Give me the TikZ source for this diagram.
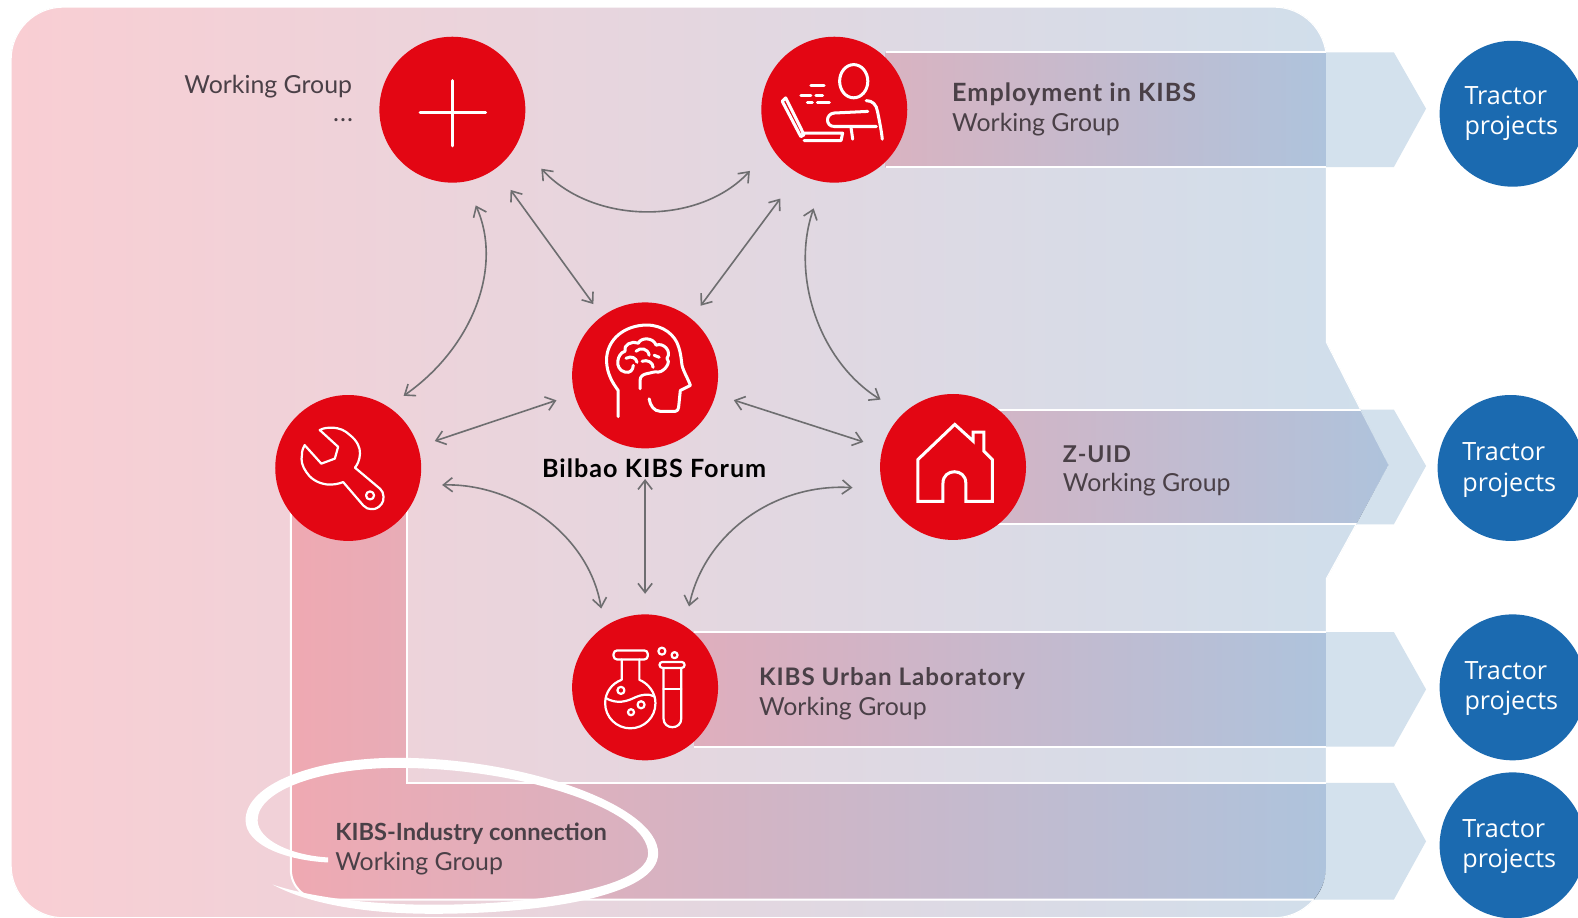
\documentclass[tikz,border=0pt]{standalone}
\usepackage{fontspec}
\setmainfont{Lato}
\newfontfamily\widefont[LetterSpace=4]{Lato}
\newfontfamily\tractorfont{Open Sans}
\usetikzlibrary{arrows.meta}
\definecolor{bgL}{HTML}{F9CED3}
\definecolor{bgR}{HTML}{CFDFEC}
\definecolor{tipc}{HTML}{D3E1ED}
\definecolor{bandR}{HTML}{AEC3DC}
\definecolor{bandA}{HTML}{D9B3C1}
\definecolor{bandB}{HTML}{D2B5C6}
\definecolor{bandC}{HTML}{DFAEBD}
\definecolor{bandD}{HTML}{EFA9B2}
\definecolor{redc}{HTML}{E30613}
\definecolor{bluec}{HTML}{1B6AB0}
\definecolor{arrc}{HTML}{6E6E70}
\definecolor{txtc}{HTML}{4A4047}
\def\mainpath{(11,460) [rounded corners=52pt] -- (11,7) -- (1318,7) [sharp corners] -- (1318,340) -- (1380,462) -- (1318,575) [rounded corners=52pt] -- (1318,912) -- (11,912) [sharp corners] -- cycle}
\tikzset{
  redball/.style={circle,fill=redc,draw=none,minimum size=145pt,inner sep=0pt,outer sep=0pt},
  blueball/.style={circle,fill=bluec,draw=none,minimum size=145pt,inner sep=0pt,outer sep=0pt},
  dblarrow/.style={draw=arrc,line width=1.6pt,{Straight Barb[length=9pt,width=14pt]}-{Straight Barb[length=9pt,width=14pt]}},
  icon/.style={draw=white,line width=3pt,line cap=round,line join=round},
  thinicon/.style={draw=white,line width=2.2pt,line cap=round,line join=round},
  edge line/.style={draw=white,line width=2pt},
  wg/.style={anchor=west,text=txtc,font=\fontsize{24.7}{25}\selectfont,inner sep=0pt},
  wgb/.style={anchor=west,text=txtc,font=\fontsize{25}{25}\selectfont\widefont\bfseries,inner sep=0pt},
  tractor/.style={text=white,align=left,font=\fontsize{25}{30}\selectfont\tractorfont,inner sep=0pt}
}
\begin{document}
\begin{tikzpicture}[x=1pt,y=-1pt]
\useasboundingbox (0,0) rectangle (1568,912);
\fill[white] (0,0) rectangle (1568,912);
% main panel
\fill[left color=bgL,right color=bgR,middle color=bgL!50!bgR] \mainpath;
\draw[white,line width=1.2pt] \mainpath;
% arrow tips
\fill[tipc] (1300,52) -- (1385,52) -- (1417,108) -- (1385,166) -- (1300,166) -- cycle;
\fill[tipc] (1300,407) -- (1385,407) -- (1417,463) -- (1385,521) -- (1300,521) -- cycle;
\fill[tipc] (1300,628) -- (1385,628) -- (1417,685) -- (1385,742) -- (1300,742) -- cycle;
\fill[tipc] (1300,778) -- (1385,778) -- (1417,836) -- (1385,894) -- (1300,894) -- cycle;
% bands
\begin{scope}
\clip \mainpath;
\fill[left color=bandA,right color=bandR] (880,52) rectangle (1318,166);
\fill[left color=bandB,right color=bandR] (990,407) rectangle (1385,521);
\fill[left color=bandC,right color=bandR] (690,628) rectangle (1318,742);
\begin{scope}
\clip (289,500) -- (404,500) -- (404,778) -- (1385,778) -- (1385,894) [rounded corners=30pt] -- (289,894) [sharp corners] -- cycle;
\fill[left color=bandD,right color=bandR] (289,500) rectangle (1318,900);
\end{scope}
\draw[edge line] (880,52) -- (1318,52) (880,166) -- (1318,166);
\draw[edge line] (990,407) -- (1385,407) (990,521) -- (1385,521);
\draw[edge line] (690,628) -- (1318,628) (690,742) -- (1318,742);
\draw[edge line] (404,500) -- (404,778) -- (1318,778);
\draw[edge line,rounded corners=30pt] (289,500) -- (289,894) -- (1318,894);
\end{scope}
% clean the clipped band edges
\draw[tipc,line width=1.2pt] (1352.5,408) -- (1380.3,462) -- (1349,520);
\draw[tipc,line width=1.4pt] (1318.6,855) .. controls (1318.6,870) and (1316,883) .. (1308,893);
% circles
\node[redball] (plus) at (449.5,109) {};
\node[redball] (emp) at (829,109) {};
\node[redball] (brain) at (641,373) {};
\node[redball] (wrench) at (346,465) {};
\node[redball] (house) at (947,464) {};
\node[redball] (flask) at (641,683) {};
\node[blueball] (t1) at (1503,113) {};
\node[blueball] (t2) at (1501,465) {};
\node[blueball] (t3) at (1503,683) {};
\node[blueball] (t4) at (1503,840) {};
% connectors
\draw[dblarrow,shorten <=26pt,shorten >=15pt] (plus) -- (brain);
\draw[dblarrow,shorten <=31pt,shorten >=16pt] (emp.-119.4) -- (brain.51);
\draw[dblarrow,shorten <=17.6pt,shorten >=19pt] (wrench.17.2) -- (brain.195.2);
\draw[dblarrow,shorten <=19pt,shorten >=20pt] (brain.-15.3) -- (house.165.7);
\draw[dblarrow,shorten <=30.5pt,shorten >=20.5pt] (brain) -- (flask);
\draw[dblarrow,shorten <=35pt,shorten >=32pt] (plus.-27.3) .. controls (590,224) and (695,224) .. (emp.-149);
\draw[dblarrow,shorten <=26pt,shorten >=19pt] (plus.-80.7) .. controls (500,265) and (470,345) .. (wrench.57.3);
\draw[dblarrow,shorten <=28pt,shorten >=26.5pt] (emp.-99.5) .. controls (785,275) and (815,360) .. (house.133);
\draw[dblarrow,shorten <=23pt,shorten >=18.5pt] (wrench.-14) .. controls (510,480) and (585,530) .. (flask.124.5);
\draw[dblarrow,shorten <=31pt,shorten >=20pt] (house.198.4) .. controls (770,480) and (700,530) .. (flask.57.8);
% plus icon
\begin{scope}[shift={(plus.center)}]
\draw[icon] (-32,3) -- (33,3) (0,-29) -- (0,36);
\end{scope}
% employment icon
\begin{scope}[shift={(emp.center)}]
\draw[icon] (19.3,-28.3) ellipse (14 and 16.5);
\draw[icon] (31.7,-9) .. controls (38,-9) and (42,-5) .. (43,2) .. controls (45,12) and (47,22) .. (47.7,29.3);
\draw[icon] (33.3,1.7) -- (0,3.3) .. controls (-9,4) and (-9,16.7) .. (0,16.7) -- (41.7,16.7);
\draw[icon] (16.7,18.3) -- (18.3,29.3);
\draw[icon] (-51.7,-8.3) -- (-48.3,-11.7) -- (-30,25) -- (-33.3,26.7) -- cycle;
\draw[icon] (-31.7,23.3) -- (8.3,23.3) -- (6.7,30.7) -- (-30,30.7);
\draw[icon] (-23.3,-24) -- (-10,-24) (-33.3,-14.3) -- (-23.3,-14.3) (-18.3,-14.3) -- (-11.7,-14.3) (-26.7,-6.7) -- (-21.7,-6.7) (-16.7,-6.7) -- (-5,-6.7);
\end{scope}
% brain icon
\begin{scope}[shift={(brain.center)}]
\draw[icon] (-26.7,41) -- (-26.7,15) .. controls (-32,8) and (-38.3,-2) .. (-38.3,-15) .. controls (-38.3,-36) and (-20,-50) .. (1.7,-50) .. controls (18,-50) and (30,-40) .. (33.3,-28.3) .. controls (36,-20) and (36,-14) .. (36.7,-10) .. controls (38,-4) and (43,4) .. (45,10) -- (35,15) -- (33.3,31.7) .. controls (33,34) and (32,35.7) .. (30,35.7) -- (15,35.7) .. controls (9,35.7) and (5,30) .. (4,23.3);
\draw[icon] (-5,13.3) -- (-5,5) .. controls (-5,1) and (-2,-1) .. (1.7,-1.7) .. controls (7,-2.5) and (8,-4) .. (13.3,-3.3) .. controls (20,-4) and (26,-14) .. (21.7,-17) .. controls (27,-24) and (18,-33) .. (11,-30) .. controls (8,-38) and (-4,-38) .. (-6.7,-32) .. controls (-13,-35) and (-22,-30) .. (-20,-24) .. controls (-28,-22) and (-31,-6) .. (-20,-3.3) .. controls (-15,-2) and (-12,-5) .. (-11.7,-10);
\draw[icon] (-19,-17) .. controls (-13,-20) and (-9,-17) .. (-8,-13) (-9,-24) .. controls (-5,-28) and (3,-27) .. (4,-20) (-3,-14) .. controls (2,-16) and (8,-13) .. (8,-8) (9,-20) -- (14,-18);
\end{scope}
% wrench icon
\begin{scope}[shift={(wrench.center)}]
\draw[thinicon] (-28.3,-37.7) .. controls (-24,-40) and (-20,-40) .. (-16.7,-40) .. controls (-8,-40) and (-3,-37) .. (1.7,-32.7) .. controls (9,-27) and (12,-20) .. (11.7,-14.3) .. controls (11.5,-8) and (9,-3) .. (6.7,-.3) -- (31.7,20.7) .. controls (36,24) and (36,33) .. (33,36) .. controls (30,40) and (26,41) .. (25,40.7) .. controls (20,41) and (17,40) .. (15,37.3) -- (-5,14) .. controls (-10,16) and (-16,17) .. (-21.7,16.3) .. controls (-31,15) and (-38,10) .. (-41.7,4) .. controls (-46,-2) and (-47,-8) .. (-46,-12.7) .. controls (-46,-17) and (-45,-20) .. (-43.3,-22.7) -- (-26.7,-4.3) -- (-13.3,-9.3) -- (-10,-21) -- cycle;
\draw[thinicon] (21.7,27.3) circle (4);
\end{scope}
% house icon
\begin{scope}[shift={(house.center)}]
\draw[icon,line join=miter] (-35,34.3) -- (-35,-7.3) -- (1.7,-42.3) -- (20,-25.7) -- (20,-34.7) -- (30.7,-34.7) -- (30.7,-15.7) -- (39,-7.3) -- (39,34.3) -- (12.7,34.3) -- (12.7,16) .. controls (12.7,1) and (-10,1) .. (-10,16) -- (-10,34.3) -- cycle;
\end{scope}
% flask icon
\begin{scope}[shift={(flask.center)}]
\draw[thinicon,rounded corners=3.5pt] (-31.3,-36.7) rectangle (2.7,-27.7);
\draw[thinicon] (-23.3,-27.7) -- (-23.3,-7.5) .. controls (-33,-4) and (-39.7,5) .. (-39.7,15.7) .. controls (-39.7,30) and (-28,40.7) .. (-14.7,40.7) .. controls (-1,40.7) and (10.3,30) .. (10.3,15.7) .. controls (10.3,5) and (3,-4) .. (-5.7,-7.5) -- (-5.7,-27.7);
\draw[thinicon] (-39,10.7) .. controls (-28,17) and (-18,14) .. (-10,10) .. controls (-3,7) and (3,6) .. (9.3,9);
\draw[thinicon] (-24,3) circle (3.5) (-4,17.3) circle (3.5) (-14,24.7) circle (3);
\draw[thinicon,rounded corners=3pt] (14.3,-25.3) rectangle (39.3,-19.3);
\draw[thinicon] (18.3,-19.3) -- (18.3,30.9) .. controls (18.3,42.5) and (36,42.5) .. (36,30.9) -- (36,-19.3);
\draw[thinicon] (18.3,1.7) -- (36,1.7);
\draw[thinicon] (16.7,-36) circle (3.5) (29.3,-32) circle (3);
\end{scope}
% swoosh
\fill[white] (326,857) .. controls (285,855) and (244,840) .. (244,815)
 .. controls (244,780) and (310,753) .. (395,753)
 .. controls (520,753) and (654,800) .. (654,848)
 .. controls (654,890) and (540,908) .. (430,908)
 .. controls (370,908) and (310,900) .. (271,879)
 .. controls (310,892) and (370,899) .. (430,899)
 .. controls (540,899) and (644,880) .. (644,848)
 .. controls (644,805) and (520,763) .. (395,763)
 .. controls (320,763) and (256,785) .. (256,815)
 .. controls (256,835) and (290,850) .. (326,852) -- cycle;
% texts
\node[wg,anchor=east] (l1) at (350,86) {Working Group};
\node[wg,anchor=east,font=\fontsize{25}{25}\selectfont\widefont] (l1b) at (351,119) {...};
\node[wgb] (l2) at (946,94) {Employment in KIBS};
\node[wg] (l2b) at (946,124) {Working Group};
\node[wgb,font=\fontsize{23}{25}\selectfont\widefont\bfseries] (l3) at (1056,451) {Z-UID};
\node[wg] (l3b) at (1056,482) {Working Group};
\node[wgb,font=\fontsize{24}{25}\selectfont\widefont\bfseries] (l4) at (754,674) {KIBS Urban Laboratory};
\node[wg] (l4b) at (754,704) {Working Group};
\node[wg,font=\fontsize{23.5}{25}\selectfont\bfseries] (l5) at (333,828) {KIBS-Industry connection};
\node[wg] (l5b) at (333,858) {Working Group};
\node[anchor=center,inner sep=0pt,text=black,font=\fontsize{25}{25}\selectfont\widefont\bfseries] (l6) at (650,465) {Bilbao KIBS Forum};
\node[tractor,anchor=west] (x1) at (1455,113) {Tractor\\projects};
\node[tractor,anchor=west] (x2) at (1453,467) {Tractor\\projects};
\node[tractor,anchor=west] (x3) at (1455,684) {Tractor\\projects};
\node[tractor,anchor=west] (x4) at (1453,841) {Tractor\\projects};
\end{tikzpicture}
\end{document}
